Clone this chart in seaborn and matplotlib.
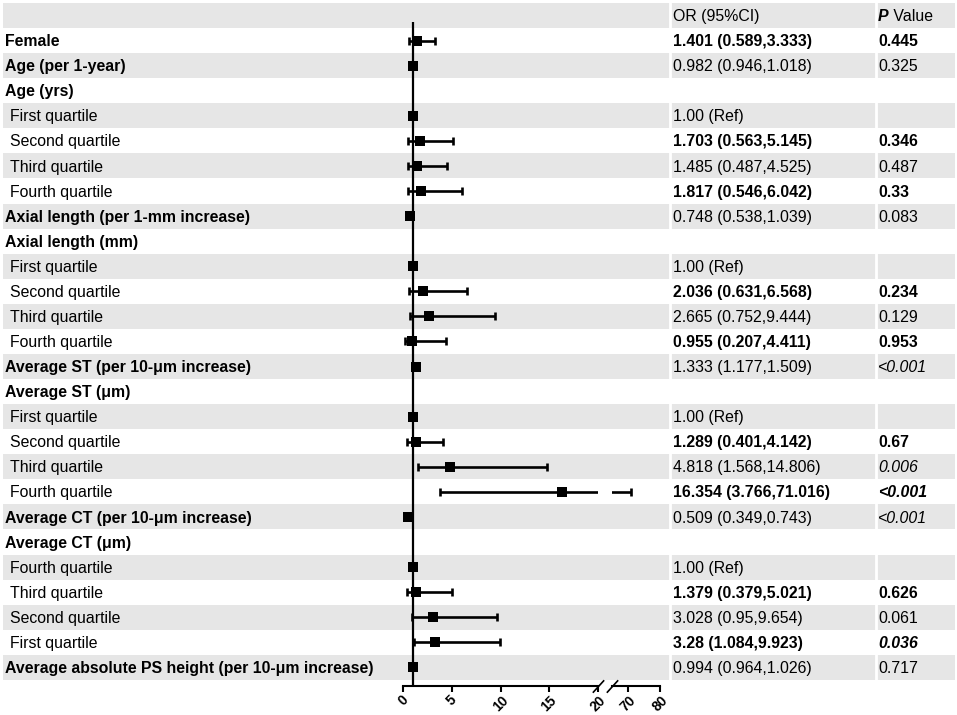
import numpy as np
import pandas as pd
import matplotlib
matplotlib.use("Agg")
import matplotlib.pyplot as plt
import seaborn as sns

# --- data ---
labels = [
    "Female", "Age (per 1-year)", "Age (yrs)",
    "First quartile", "Second quartile", "Third quartile", "Fourth quartile",
    "Axial length (per 1-mm increase)", "Axial length (mm)",
    "First quartile", "Second quartile", "Third quartile", "Fourth quartile",
    "Average ST (per 10-\u03bcm increase)", "Average ST (\u03bcm)",
    "First quartile", "Second quartile", "Third quartile", "Fourth quartile",
    "Average CT (per 10-\u03bcm increase)", "Average CT (\u03bcm)",
    "Fourth quartile", "Third quartile", "Second quartile", "First quartile",
    "Average absolute PS height (per 10-\u03bcm increase)",
]
is_group = [1, 1, 1, 0, 0, 0, 0, 1, 1, 0, 0, 0, 0, 1, 1, 0, 0, 0, 0, 1, 1, 0, 0, 0, 0, 1]
odds = [1.401, 0.982, np.nan, 1.00, 1.703, 1.485, 1.817, 0.748, np.nan,
        1.00, 2.036, 2.665, 0.955, 1.333, np.nan, 1.00, 1.289, 4.818, 16.354,
        0.509, np.nan, 1.00, 1.379, 3.028, 3.28, 0.994]
ci_low = [0.589, 0.946, np.nan, np.nan, 0.563, 0.487, 0.546, 0.538, np.nan,
          np.nan, 0.631, 0.752, 0.207, 1.177, np.nan, np.nan, 0.401, 1.568, 3.766,
          0.349, np.nan, np.nan, 0.379, 0.95, 1.084, 0.964]
ci_high = [3.333, 1.018, np.nan, np.nan, 5.145, 4.525, 6.042, 1.039, np.nan,
           np.nan, 6.568, 9.444, 4.411, 1.509, np.nan, np.nan, 4.142, 14.806, 71.016,
           0.743, np.nan, np.nan, 5.021, 9.654, 9.923, 1.026]
p_text = ["0.445", "0.325", "", "", "0.346", "0.487", "0.33", "0.083", "",
          "", "0.234", "0.129", "0.953", "<0.001", "", "", "0.67", "0.006", "<0.001",
          "<0.001", "", "", "0.626", "0.061", "0.036", "0.717"]
ticks_low = [0, 5, 10, 15, 20]
ticks_high = [70, 80]

# --- layout (pixels) ---
W, H = 957, 715
ROW_TOP, ROW_H = 3, 25.07
GRAY = "#e6e6e6"
FS = 11.4
BASE = 5.6  # baseline offset below row centre

sns.set_theme(style="white")
plt.rcParams["font.family"] = ["Liberation Sans", "DejaVu Sans"]


def row_y(r):
    return ROW_TOP + ROW_H * (r + 0.5)


df = pd.DataFrame({"odds": odds, "lo": ci_low, "hi": ci_high})
df["row"] = np.arange(len(df)) + 1

fig = plt.figure(figsize=(W / 100, H / 100), dpi=100)
bg = fig.add_axes([0, 0, 1, 1])
bg.set_xlim(0, W)
bg.set_ylim(H, 0)
bg.axis("off")

n_rows = len(labels) + 1
for r in range(0, n_rows, 2):
    bg.axhspan(ROW_TOP + ROW_H * r, ROW_TOP + ROW_H * (r + 1), xmin=3 / W, xmax=955 / W,
               color=GRAY, lw=0)
for xs in (670, 876):
    bg.axvline(xs, color="white", lw=2)

# header
bg.text(673, row_y(0) + BASE, "OR (95%CI)", fontsize=FS, va="baseline", color="black")
ptxt = bg.text(878, row_y(0) + BASE, "P", fontsize=FS, fontweight="bold", fontstyle="italic",
               va="baseline", color="black")
bg.annotate(" Value", xy=(1, 0), xycoords=ptxt, fontsize=FS, va="bottom", ha="left",
            color="black")

for i, lab in enumerate(labels):
    r = i + 1
    y = row_y(r) + BASE
    if is_group[i]:
        bg.text(5, y, lab, fontsize=FS, fontweight="bold", va="baseline", color="black")
    else:
        bg.text(10, y, lab, fontsize=FS, va="baseline", color="black")
    weight = "bold" if r % 2 == 1 else "normal"
    o, lo, hi = odds[i], ci_low[i], ci_high[i]
    if not np.isnan(o):
        if np.isnan(lo):
            s = f"{o:.2f} (Ref)"
        else:
            s = f"{o:g} ({lo:g},{hi:g})"
        bg.text(673, y, s, fontsize=FS, fontweight=weight, va="baseline", color="black")
    p = p_text[i]
    if p:
        sig = p.startswith("<") or float(p) < 0.05
        bg.text(878, y, p, fontsize=FS, fontweight=weight,
                fontstyle="italic" if sig else "normal", va="baseline", color="black")

# --- forest plot, broken x axis ---
y_bot = 686
ylim = ((y_bot - ROW_TOP) / ROW_H - 0.5, -0.5)
ax1 = fig.add_axes([403 / W, 1 - y_bot / H, (598 - 403) / W, (y_bot - ROW_TOP) / H])
ax2 = fig.add_axes([612 / W, 1 - y_bot / H, (660 - 612) / W, (y_bot - ROW_TOP) / H])
ax1.set_xlim(0, 20)
ax2.set_xlim(65, 80)

ax1.vlines(1, (22 - ROW_TOP) / ROW_H - 0.5, ylim[0], color="black", lw=1.6, zorder=2)

pts = df.dropna(subset=["odds"])
ci = df.dropna(subset=["lo"])
for ax in (ax1, ax2):
    ax.set_facecolor("none")
    ax.errorbar(ci["odds"], ci["row"], xerr=[ci["odds"] - ci["lo"], ci["hi"] - ci["odds"]],
                fmt="none", ecolor="black", elinewidth=1.9, capsize=2.6, capthick=1.9, zorder=3)
    sns.scatterplot(data=pts, x="odds", y="row", marker="s", s=46, color="black",
                    linewidth=0, legend=False, ax=ax, zorder=4)
    ax.set_ylim(*ylim)
    ax.set_xlabel("")
    ax.set_ylabel("")
    ax.set_yticks([])
    for side in ("top", "right", "left"):
        ax.spines[side].set_visible(False)
    ax.spines["bottom"].set_linewidth(1.5)
    ax.spines["bottom"].set_color("black")
    ax.tick_params(axis="x", bottom=True, direction="out", length=4, width=1.5, pad=1,
                   color="black", labelsize=10, labelcolor="black")

ax1.set_xticks(ticks_low)
ax2.set_xticks(ticks_high)
for ax in (ax1, ax2):
    for lbl in ax.get_xticklabels():
        lbl.set_rotation(45)
        lbl.set_fontweight("bold")
        lbl.set_ha("center")

brk = dict(marker=[(-1, -1.1), (1, 1.1)], markersize=9, linestyle="none",
           color="black", mec="black", mew=1.2, clip_on=False)
ax1.plot([1], [0], transform=ax1.transAxes, **brk)
ax2.plot([0], [0], transform=ax2.transAxes, **brk)

fig.savefig("out.png", dpi=100)
